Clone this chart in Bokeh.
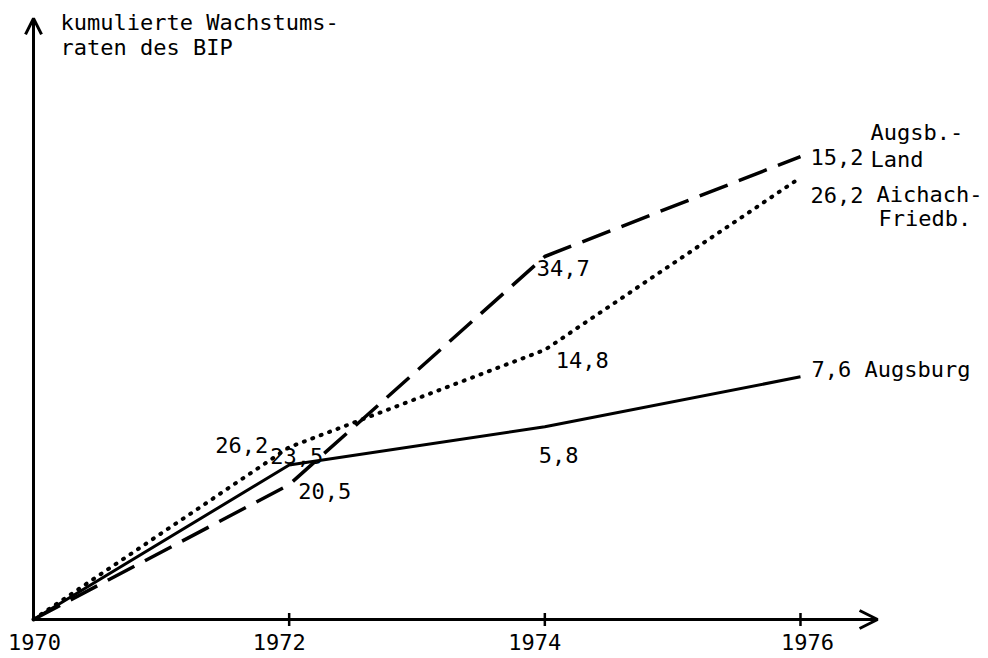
import numpy as np
from bokeh.plotting import figure
from bokeh.models import Arrow, OpenHead
from bokeh.core.properties import value
from bokeh.embed import file_html
from bokeh.resources import INLINE

# ---- data -------------------------------------------------------------
years = [1970, 1972, 1974, 1976]
tick_years = [1972, 1974, 1976]
tick_labels = ["1970", "1972", "1974", "1976"]

# period growth rates (labels written at the line points)
rates_augsburg = ["23,5", "5,8", "7,6"]
rates_aichach = ["26,2", "14,8", "26,2"]
rates_land = ["20,5", "34,7", "15,2"]

# cumulated growth rates (drawn lines)
cum_augsburg = [0, 23.5, 29.3, 36.9]
cum_aichach = [0, 26.2, 41.0, 67.2]
cum_land = [0, 20.5, 55.2, 70.4]

title_lines = ["kumulierte Wachstums-", "raten des BIP"]
name_augsburg = "Augsburg"
name_aichach = ["Aichach-", "Friedb."]
name_land = ["Augsb.-", "Land"]

# ---- figure -------------------------------------------------------------
FONT = "DejaVu Sans Mono"
FS = "22px"
W, H = 988, 658
X0, X1 = 1969.7418, 1977.4708
Y0, Y1 = -5.931, 94.13
X_TIP, Y_TIP = 1976.603, 91.4
DY = -8  # baseline correction

p = figure(width=W, height=H, x_range=(X0, X1), y_range=(Y0, Y1),
           output_backend="svg", toolbar_location=None,
           x_axis_location=None, y_axis_location=None,
           min_border=0, outline_line_color=None)
p.min_border_left = p.min_border_right = p.min_border_top = p.min_border_bottom = 0
p.background_fill_color = "white"
p.border_fill_color = "white"
p.xgrid.visible = False
p.ygrid.visible = False

# axes as arrows
p.add_layout(Arrow(end=OpenHead(size=18, line_width=3, line_color="black"),
                   x_start=years[0], y_start=0, x_end=X_TIP, y_end=0,
                   line_width=3, line_color="black"))
p.add_layout(Arrow(end=OpenHead(size=16, line_width=3, line_color="black"),
                   x_start=years[0], y_start=0, x_end=years[0], y_end=Y_TIP,
                   line_width=3, line_color="black"))

# tick marks
p.scatter(tick_years, [0] * len(tick_years), marker="dash", angle=np.pi / 2,
          size=13, line_width=2.5, line_color="black")

# lines
p.line(years, cum_augsburg, line_width=3, line_color="black")
p.line(years, cum_aichach, line_width=4, line_color="black",
       line_dash="1 8", line_cap="round")
p.line(years, cum_land, line_width=3.5, line_color="black", line_dash="30 12")


def put(x, y, txt, dx, dy, align="left"):
    p.text(x=[x], y=[y], text=[txt], x_offset=dx, y_offset=dy + DY,
           text_font=value(FONT), text_font_size=FS, text_align=align,
           text_baseline="alphabetic", text_color="black")


# tick labels
p.text(x=years, y=[0] * len(years), text=tick_labels,
       x_offset=[1, -10, -10, 7], y_offset=31 + DY,
       text_font=value(FONT), text_font_size=FS, text_align="center",
       text_baseline="alphabetic", text_color="black")

# axis title
put(years[0], Y_TIP, title_lines[0], 27, 12)
put(years[0], Y_TIP, title_lines[1], 27, 37)

# Augsburg
put(years[1], cum_augsburg[1], rates_augsburg[0], -19, -1)
put(years[2], cum_augsburg[2], rates_augsburg[1], -6, 36)
put(years[3], cum_augsburg[3], rates_augsburg[2] + " " + name_augsburg, 11, 1)

# Aichach-Friedberg
put(years[1], cum_aichach[1], rates_aichach[0], -74, 6)
put(years[2], cum_aichach[2], rates_aichach[1], 11, 18)
put(years[3], cum_aichach[3], rates_aichach[2], 10, 25)
put(years[3], cum_aichach[3], name_aichach[0], 76, 25)
put(years[3], cum_aichach[3], name_aichach[1], 78, 49)

# Augsburg-Land
put(years[1], cum_land[1], rates_land[0], 9, 14)
put(years[2], cum_land[2], rates_land[1], -8, 19)
put(years[3], cum_land[3], rates_land[2], 10, 8)
put(years[3], cum_land[3], name_land[0], 70, -16)
put(years[3], cum_land[3], name_land[1], 70, 11)

open("out.html", "w").write(file_html(p, INLINE))
